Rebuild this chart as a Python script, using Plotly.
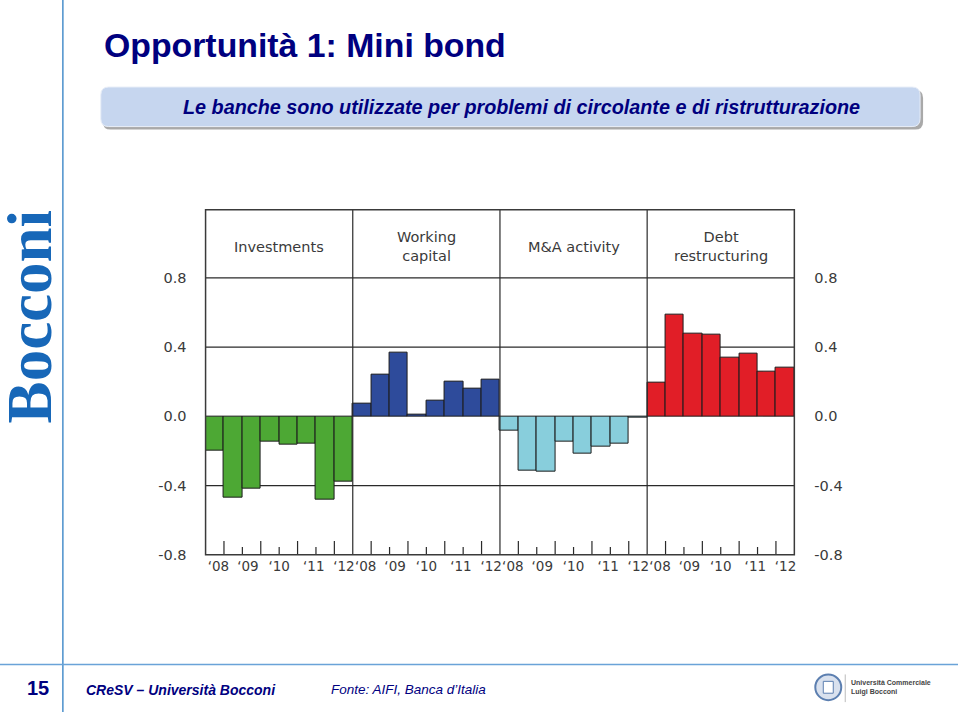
import plotly.graph_objects as go

# ---------------- data ----------------
panel_titles = ["Investments", "Working<br>capital", "M&A activity", "Debt<br>restructuring"]
investments = [-0.200, -0.470, -0.420, -0.147, -0.162, -0.156, -0.480, -0.380]
working_capital = [0.073, 0.240, 0.367, 0.010, 0.093, 0.200, 0.162, 0.210]
ma_activity = [-0.084, -0.314, -0.320, -0.147, -0.215, -0.177, -0.156, -0.005]
debt_restructuring = [0.193, 0.587, 0.478, 0.473, 0.337, 0.360, 0.259, 0.282]
year_labels = ["‘08", "‘09", "‘10", "‘11", "‘12"]
y_tick_values = [-0.8, -0.4, 0.0, 0.4, 0.8]
y_tick_text = ["-0.8", "-0.4", "0.0", "0.4", "0.8"]
grid_values = [-0.4, 0.4, 0.8]

series = [investments, working_capital, ma_activity, debt_restructuring]
colors = ["#4DA834", "#2E4B9B", "#88CEDC", "#E11E27"]

# ---------------- layout helpers ----------------
W, H = 960, 720


def px(x):
    return x / W


def py(y):
    return 1 - y / H


n = len(investments)
year_offsets = [0.20, 1.80, 3.5, 5.38, 7.02]

fig = go.Figure()
for p, vals in enumerate(series):
    fig.add_trace(go.Bar(
        x=[p * n + i for i in range(n)], y=vals,
        marker=dict(color=colors[p], line=dict(color="#1c1c1c", width=1)),
        width=1.0, showlegend=False, hoverinfo="skip"))

# right axis helper trace (invisible)
fig.add_trace(go.Scatter(x=[0], y=[0], yaxis="y2", mode="markers",
                         marker=dict(opacity=0), showlegend=False, hoverinfo="skip"))

tickvals = [p * n + off for p in range(len(series)) for off in year_offsets]
ticktext = [lab for p in range(len(series)) for lab in year_labels]

ymin, ymax = -0.8, 1.194
axis_font = dict(family="DejaVu Sans", size=14.5, color="#3a3a3a")
xtick_font = dict(family="DejaVu Sans", size=13.5, color="#3a3a3a")

shapes = []
line_col = "#2a2a2a"
# horizontal gridlines
for g in grid_values:
    shapes.append(dict(type="line", xref="x", yref="y", x0=-0.5, x1=n * 4 - 0.5,
                       y0=g, y1=g, line=dict(color=line_col, width=1.2), layer="below"))
# panel separators
for p in range(1, 4):
    shapes.append(dict(type="line", xref="x", yref="y", x0=p * n - 0.5, x1=p * n - 0.5,
                       y0=ymin, y1=ymax, line=dict(color=line_col, width=1.2)))
# bottom tick marks at bar boundaries
for p in range(4):
    for k in range(1, n):
        L = 0.08 if k % 2 == 1 else 0.045
        xx = p * n - 0.5 + k
        shapes.append(dict(type="line", xref="x", yref="y", x0=xx, x1=xx,
                           y0=ymin, y1=ymin + L, line=dict(color=line_col, width=1.2)))
# plot frame
shapes.append(dict(type="rect", xref="x domain", yref="y domain", x0=0, x1=1, y0=0, y1=1,
                   line=dict(color="#3a3a3a", width=1.5)))


# ----- page decorations -----
def rrect(x0, y0, x1, y1, r):
    a, b, c, d = px(x0), px(x1), py(y0), py(y1)
    rx, ry = r / W, r / H
    return (f"M {a+rx},{c} L {b-rx},{c} Q {b},{c} {b},{c-ry} L {b},{d+ry} "
            f"Q {b},{d} {b-rx},{d} L {a+rx},{d} Q {a},{d} {a},{d+ry} L {a},{c-ry} "
            f"Q {a},{c} {a+rx},{c} Z")


shapes.append(dict(type="path", xref="paper", yref="paper", path=rrect(103, 91, 925, 131, 8),
                   fillcolor="#A9A9A9", line=dict(width=0), layer="below"))
shapes.append(dict(type="path", xref="paper", yref="paper", path=rrect(101, 88, 922, 128, 8),
                   fillcolor="#C6D6EF", line=dict(color="#E8EEF8", width=1), layer="below"))
# left vertical rule
shapes.append(dict(type="line", xref="paper", yref="paper", x0=px(63), x1=px(63), y0=0, y1=1,
                   line=dict(color="#4A8FCB", width=1.5)))
# footer rule
shapes.append(dict(type="line", xref="paper", yref="paper", x0=0, x1=1, y0=py(672), y1=py(672),
                   line=dict(color="#6AA3D8", width=1.5)))
# logo crest
shapes.append(dict(type="circle", xref="paper", yref="paper", x0=px(817), x1=px(843),
                   y0=py(708), y1=py(682), fillcolor="#D9E1EE", line=dict(color="#5C7FB0", width=2)))
shapes.append(dict(type="rect", xref="paper", yref="paper", x0=px(825), x1=px(835),
                   y0=py(701), y1=py(689), fillcolor="#FFFFFF", line=dict(color="#5C7FB0", width=1)))
shapes.append(dict(type="line", xref="paper", yref="paper", x0=px(847), x1=px(847),
                   y0=py(710), y1=py(682), line=dict(color="#BBBBBB", width=1)))

annotations = []
for p, t in enumerate(panel_titles):
    annotations.append(dict(x=p * n + (n - 1) / 2, y=0.98, xref="x", yref="y", text=t,
                            showarrow=False, font=dict(family="DejaVu Sans", size=14.5, color="#3a3a3a"),
                            align="center"))

navy = "#00007F"
annotations += [
    dict(x=px(102), y=py(45), xref="paper", yref="paper", xanchor="left", yanchor="middle",
         text="<b>Opportunità 1: Mini bond</b>", showarrow=False,
         font=dict(family="Liberation Sans", size=33.8, color=navy)),
    dict(x=px(523), y=py(108), xref="paper", yref="paper", xanchor="center", yanchor="middle",
         text="<b><i>Le banche sono utilizzate per problemi di circolante e di ristrutturazione</i></b>",
         showarrow=False, font=dict(family="Liberation Sans", size=19.8, color=navy)),
    dict(x=px(31), y=py(320), xref="paper", yref="paper", xanchor="center", yanchor="middle",
         text="<b>Bocconi</b>", textangle=-90, showarrow=False,
         font=dict(family="Liberation Serif", size=63, color="#1767B8")),
    dict(x=px(38), y=py(696), xref="paper", yref="paper", xanchor="center", yanchor="middle",
         text="<b>15</b>", showarrow=False, font=dict(family="Liberation Sans", size=20, color=navy)),
    dict(x=px(84), y=py(698), xref="paper", yref="paper", xanchor="left", yanchor="middle",
         text="<b><i>CReSV – Università Bocconi</i></b>", showarrow=False,
         font=dict(family="Liberation Sans", size=14, color=navy)),
    dict(x=px(330), y=py(697), xref="paper", yref="paper", xanchor="left", yanchor="middle",
         text="<i>Fonte: AIFI, Banca d’Italia</i>", showarrow=False,
         font=dict(family="Liberation Sans", size=13.5, color=navy)),
    dict(x=px(851), y=py(695), xref="paper", yref="paper", xanchor="left", yanchor="middle",
         text="<b>Università Commerciale<br>Luigi Bocconi</b>", showarrow=False, align="left",
         font=dict(family="Liberation Sans", size=7, color="#444444")),
]

fig.update_layout(
    width=W, height=H, margin=dict(l=0, r=0, t=0, b=0),
    paper_bgcolor="white", plot_bgcolor="white",
    bargap=0,
    xaxis=dict(domain=[px(206), px(796)], range=[-0.5, n * 4 - 0.5], showgrid=False, zeroline=False,
               showline=False, ticks="", tickmode="array", tickvals=tickvals, ticktext=ticktext,
               tickangle=0, tickfont=xtick_font, ticklabelstandoff=2, fixedrange=True),
    yaxis=dict(domain=[py(561), py(212)], range=[ymin, ymax], showgrid=False, zeroline=False,
               showline=False, ticks="", tickmode="array", tickvals=y_tick_values, ticktext=y_tick_text,
               tickfont=axis_font, ticklabelstandoff=18, fixedrange=True),
    yaxis2=dict(overlaying="y", side="right", anchor="x", range=[ymin, ymax], showgrid=False,
                zeroline=False, showline=False, ticks="", tickmode="array", tickvals=y_tick_values,
                ticktext=y_tick_text, tickfont=axis_font, ticklabelstandoff=19, fixedrange=True),
    shapes=shapes, annotations=annotations,
)

fig.write_html("out.html", config={"displayModeBar": False},
               post_script="document.body.style.margin='0';"
                           "document.documentElement.style.overflow='hidden';")
